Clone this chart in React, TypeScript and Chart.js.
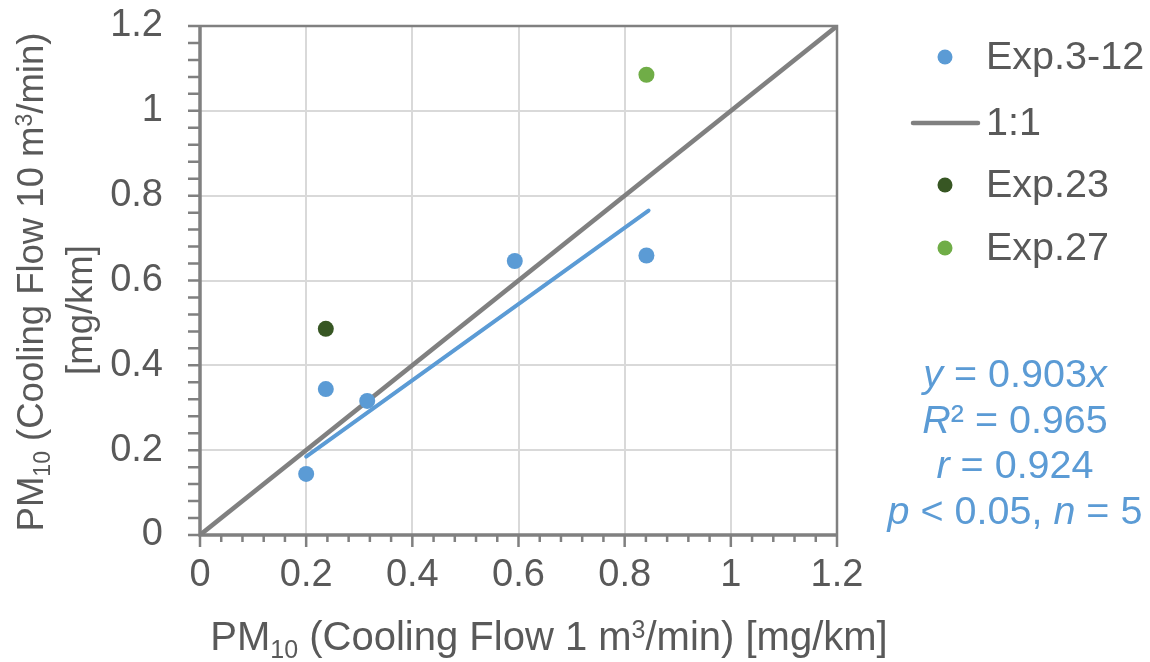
import React, { useEffect, useRef } from 'react';
import { Chart, registerables } from 'chart.js';

Chart.register(...registerables);

// ---- data ----
const expLabel = 'Exp.3-12';
const expX = [0.2, 0.237, 0.315, 0.593, 0.841];
const expY = [0.144, 0.344, 0.316, 0.646, 0.659];

const exp23Label = 'Exp.23';
const exp23X = [0.237];
const exp23Y = [0.486];

const exp27Label = 'Exp.27';
const exp27X = [0.841];
const exp27Y = [1.085];

const oneLabel = '1:1';
const oneX = [0, 1.2];
const oneY = [0, 1.2];

const trendX = [0.2, 0.845];
const trendY = [0.185, 0.765];

const axisMin = 0;
const axisMax = 1.2;
const majorStep = 0.2;
const minorStep = 0.04;

const statsLines = [
  [{ t: 'y', i: true }, { t: ' = 0.903' }, { t: 'x', i: true }],
  [{ t: 'R', i: true }, { t: '² = 0.965' }],
  [{ t: 'r', i: true }, { t: ' = 0.924' }],
  [{ t: 'p', i: true }, { t: ' < 0.05, ' }, { t: 'n', i: true }, { t: ' = 5' }],
];

const xTitle = [
  { t: 'PM' }, { t: '10', sub: true }, { t: ' (Cooling Flow 1 m' }, { t: '3', sup: true }, { t: '/min) [mg/km]' },
];
const yTitle1 = [
  { t: 'PM' }, { t: '10', sub: true }, { t: ' (Cooling Flow 10 m' }, { t: '3', sup: true }, { t: '/min)' },
];
const yTitle2 = [{ t: '[mg/km]' }];

// ---- styles ----
const BLUE = '#5B9BD5';
const DKGREEN = '#375623';
const LTGREEN = '#70AD47';
const GRAY = '#808080';
const GRID = '#D9D9D9';
const TEXT = '#595959';
const FAMILY = '"Liberation Sans", Arial, sans-serif';
const FS_TICK = 38;
const FS_LEG = 39.5;
const FS_XT = 40;
const FS_YT = 36.5;

type Seg = { t: string; i?: boolean; sub?: boolean; sup?: boolean };

function segFont(s: Seg, size: number) {
  const sz = s.sub || s.sup ? Math.round(size * 0.62) : size;
  return `${s.i ? 'italic ' : ''}${sz}px ${FAMILY}`;
}

function segsWidth(ctx: CanvasRenderingContext2D, segs: Seg[], size: number) {
  let w = 0;
  for (const s of segs) {
    ctx.font = segFont(s, size);
    w += ctx.measureText(s.t).width;
  }
  return w;
}

function drawSegs(ctx: CanvasRenderingContext2D, segs: Seg[], cx: number, cy: number, size: number, color: string) {
  const w = segsWidth(ctx, segs, size);
  let x = cx - w / 2;
  ctx.fillStyle = color;
  ctx.textBaseline = 'alphabetic';
  ctx.textAlign = 'left';
  const base = cy + size * 0.36;
  for (const s of segs) {
    ctx.font = segFont(s, size);
    let y = base;
    if (s.sub) y = base + size * 0.2;
    if (s.sup) y = base - size * 0.3;
    ctx.fillText(s.t, x, y);
    x += ctx.measureText(s.t).width;
  }
}

const decoPlugin = {
  id: 'deco',
  beforeDatasetsDraw(chart: any) {
    const { ctx, chartArea: a, scales } = chart;
    const xs = scales.x;
    const ys = scales.y;
    ctx.save();
    ctx.strokeStyle = GRAY;
    ctx.lineCap = 'butt';
    // frame top/right
    ctx.lineWidth = 2.5;
    ctx.beginPath();
    ctx.moveTo(a.left, a.top);
    ctx.lineTo(a.right, a.top);
    ctx.lineTo(a.right, a.bottom);
    ctx.stroke();
    // ticks
    ctx.lineWidth = 2.5;
    ctx.beginPath();
    const n = Math.round((axisMax - axisMin) / minorStep);
    const perMajor = Math.round(majorStep / minorStep);
    for (let i = 0; i <= n; i++) {
      const v = axisMin + i * minorStep;
      const px = xs.getPixelForValue(v);
      const major = i % perMajor === 0;
      ctx.moveTo(px, a.bottom);
      ctx.lineTo(px, a.bottom + (major ? 12 : 7));
      const py = ys.getPixelForValue(v);
      ctx.moveTo(a.left, py);
      ctx.lineTo(a.left - 12, py);
    }
    ctx.stroke();
    // axes
    ctx.lineWidth = 3.5;
    ctx.beginPath();
    ctx.moveTo(a.left, a.top - 1);
    ctx.lineTo(a.left, a.bottom);
    ctx.lineTo(a.right + 1, a.bottom);
    ctx.stroke();
    ctx.restore();
  },
  afterDraw(chart: any) {
    const { ctx } = chart;
    ctx.save();
    // axis titles
    drawSegs(ctx, xTitle, 549, 636, FS_XT, TEXT);
    ctx.save();
    ctx.translate(30, 282);
    ctx.rotate(-Math.PI / 2);
    drawSegs(ctx, yTitle1, 0, 0, FS_YT, TEXT);
    ctx.restore();
    ctx.save();
    ctx.translate(79, 310);
    ctx.rotate(-Math.PI / 2);
    drawSegs(ctx, yTitle2, 0, 0, FS_YT, TEXT);
    ctx.restore();

    // legend
    const ds = chart.data.datasets;
    const items = [0, 1, 2, 3];
    const ys = [57, 123, 185, 248];
    items.forEach((idx, k) => {
      const d = ds[idx];
      const y = ys[k];
      if (d.showLine) {
        ctx.strokeStyle = d.borderColor;
        ctx.lineWidth = 4.5;
        ctx.lineCap = 'round';
        ctx.beginPath();
        ctx.moveTo(913, y);
        ctx.lineTo(978, y);
        ctx.stroke();
      } else {
        ctx.fillStyle = d.backgroundColor;
        ctx.beginPath();
        ctx.arc(945, y, 7.5, 0, Math.PI * 2);
        ctx.fill();
      }
      ctx.fillStyle = TEXT;
      ctx.font = `${FS_LEG}px ${FAMILY}`;
      ctx.textAlign = 'left';
      ctx.textBaseline = 'middle';
      ctx.fillText(d.label, 986, y + 1);
    });

    // stats
    const sy = [373, 419, 464, 510];
    statsLines.forEach((segs, k) => drawSegs(ctx, segs as Seg[], 1015, sy[k], FS_LEG, BLUE));
    ctx.restore();
  },
};

const pts = (xs: number[], ys: number[]) => xs.map((x, i) => ({ x, y: ys[i] }));

export default function App() {
  const ref = useRef<HTMLCanvasElement | null>(null);
  useEffect(() => {
    if (!ref.current) return;
    const tickFont = { family: FAMILY, size: FS_TICK };
    const fmt = (v: any) => {
      const n = Math.round(Number(v) * 10) / 10;
      return String(n);
    };
    const chart = new Chart(ref.current, {
      type: 'scatter',
      data: {
        datasets: [
          {
            label: expLabel,
            data: pts(expX, expY),
            backgroundColor: BLUE,
            borderColor: BLUE,
            pointRadius: 8,
            pointBorderWidth: 0,
            order: 1,
          },
          {
            label: oneLabel,
            data: pts(oneX, oneY),
            showLine: true,
            borderColor: GRAY,
            backgroundColor: GRAY,
            borderWidth: 4.5,
            pointRadius: 0,
            order: 5,
          },
          {
            label: exp23Label,
            data: pts(exp23X, exp23Y),
            backgroundColor: DKGREEN,
            borderColor: DKGREEN,
            pointRadius: 8,
            pointBorderWidth: 0,
            order: 2,
          },
          {
            label: exp27Label,
            data: pts(exp27X, exp27Y),
            backgroundColor: LTGREEN,
            borderColor: LTGREEN,
            pointRadius: 8,
            pointBorderWidth: 0,
            order: 3,
          },
          {
            label: 'Linear (Exp.3-12)',
            data: pts(trendX, trendY),
            showLine: true,
            borderColor: BLUE,
            backgroundColor: BLUE,
            borderWidth: 4,
            borderCapStyle: 'round',
            pointRadius: 0,
            order: 4,
          },
        ],
      } as any,
      options: {
        animation: false,
        responsive: false,
        maintainAspectRatio: false,
        events: [],
        layout: { padding: { left: 0, top: 26, right: 313, bottom: 0 } },
        plugins: { legend: { display: false }, tooltip: { enabled: false }, title: { display: false } },
        scales: {
          x: {
            type: 'linear',
            min: axisMin,
            max: axisMax,
            ticks: { stepSize: majorStep, font: tickFont, color: TEXT, padding: 18, callback: fmt, maxRotation: 0, autoSkip: false },
            grid: { color: GRID, lineWidth: 2, drawTicks: false },
            border: { display: false },
            afterFit: (s: any) => { s.height = 127; s.paddingLeft = 0; s.paddingRight = 0; s.paddingTop = 0; s.paddingBottom = 0; },
          },
          y: {
            type: 'linear',
            min: axisMin,
            max: axisMax,
            ticks: { stepSize: majorStep, font: tickFont, color: TEXT, padding: 37, callback: fmt, autoSkip: false },
            grid: { color: GRID, lineWidth: 2, drawTicks: false },
            border: { display: false },
            afterFit: (s: any) => { s.width = 200; s.paddingTop = 0; s.paddingBottom = 0; s.paddingLeft = 0; s.paddingRight = 0; },
          },
        },
      } as any,
      plugins: [decoPlugin],
    });
    return () => chart.destroy();
  }, []);
  return (
    <div style={{ position: 'fixed', left: 0, top: 0, width: 1150, height: 662, background: '#fff' }}>
      <canvas ref={ref} width={1150} height={662} style={{ display: 'block', width: 1150, height: 662 }} />
    </div>
  );
}
